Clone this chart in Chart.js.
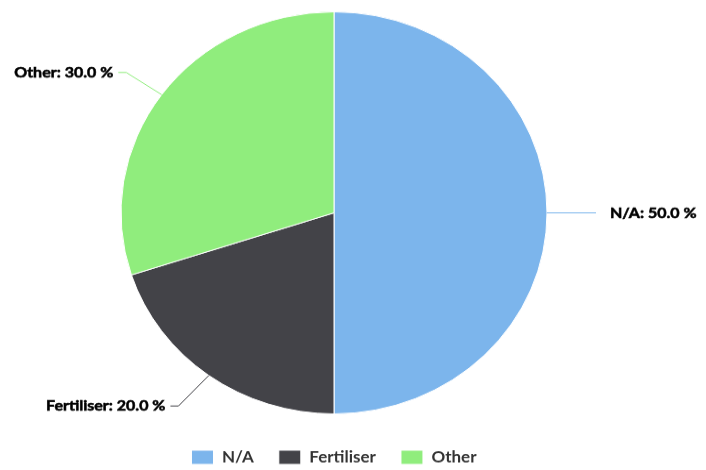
<!DOCTYPE html>
<html>
<head>
<meta charset="utf-8">
<script src="https://cdn.jsdelivr.net/npm/chart.js@4/dist/chart.umd.min.js"></script>
<style>
  html, body { margin: 0; padding: 0; background: #ffffff; overflow: hidden; }
  #wrap { width: 706px; height: 498px; transform: scale(1, 0.9438); transform-origin: 0 0; }
</style>
</head>
<body>
<div id="wrap"><canvas id="pieChart" width="706" height="498"></canvas></div>
<script>
const sliceLabels = ['N/A', 'Fertiliser', 'Other'];
const shares = [50, 20, 30];
const sliceColors = ['#7cb5ec', '#434348', '#90ed7d'];

const labelFont = 'bold 16px Lato, sans-serif';

// data labels with connector lines, placed outside the pie like the original
const pieLabels = {
  id: 'pieLabels',
  afterDatasetsDraw(chart) {
    const { ctx } = chart;
    const meta = chart.getDatasetMeta(0);
    const total = shares.reduce((a, b) => a + b, 0);

    ctx.save();
    ctx.font = labelFont;
    ctx.textBaseline = 'middle';

    meta.data.forEach((arc, i) => {
      const { x, y, startAngle, endAngle, outerRadius } =
        arc.getProps(['x', 'y', 'startAngle', 'endAngle', 'outerRadius'], true);
      const mid = (startAngle + endAngle) / 2;
      const right = Math.cos(mid) >= 0;
      const edge = { x: x + Math.cos(mid) * outerRadius, y: y + Math.sin(mid) * outerRadius };
      const reach = outerRadius + 49;
      const dy = Math.sin(mid) * (outerRadius + 40);
      const dx = Math.sqrt(Math.max(reach * reach - dy * dy, 0));
      const end = { x: right ? x + dx : x - dx, y: y + dy };
      const bend = { x: end.x + (right ? -8 : 8), y: end.y };

      ctx.lineWidth = 1;
      ctx.strokeStyle = sliceColors[i];
      ctx.beginPath();
      ctx.moveTo(edge.x, edge.y);
      ctx.lineTo(bend.x, bend.y);
      ctx.lineTo(end.x, end.y);
      ctx.stroke();

      const text = `${sliceLabels[i]}: ${(shares[i] / total * 100).toFixed(1)} %`;
      const tx = right ? end.x + 14 : end.x - 5;
      ctx.textAlign = right ? 'left' : 'right';
      ctx.fillStyle = '#000000';
      ctx.strokeStyle = '#000000';
      ctx.lineWidth = 0.6;
      ctx.fillText(text, tx, end.y);
      ctx.strokeText(text, tx, end.y);
    });

    ctx.restore();
  }
};

new Chart(document.getElementById('pieChart'), {
  type: 'pie',
  data: {
    labels: sliceLabels,
    datasets: [{
      data: shares,
      backgroundColor: sliceColors,
      borderColor: '#ffffff',
      borderWidth: 1,
      radius: 213
    }]
  },
  options: {
    responsive: false,
    animation: false,
    events: [],
    layout: { padding: { left: 0, right: 38, top: -6, bottom: -5 } },
    plugins: {
      legend: {
        position: 'bottom',
        labels: {
          boxWidth: 22,
          boxHeight: 15,
          padding: 25,
          color: '#333333',
          font: { family: 'Lato', size: 17, weight: 'bold' }
        }
      },
      tooltip: { enabled: false }
    }
  },
  plugins: [pieLabels]
});
</script>
</body>
</html>
